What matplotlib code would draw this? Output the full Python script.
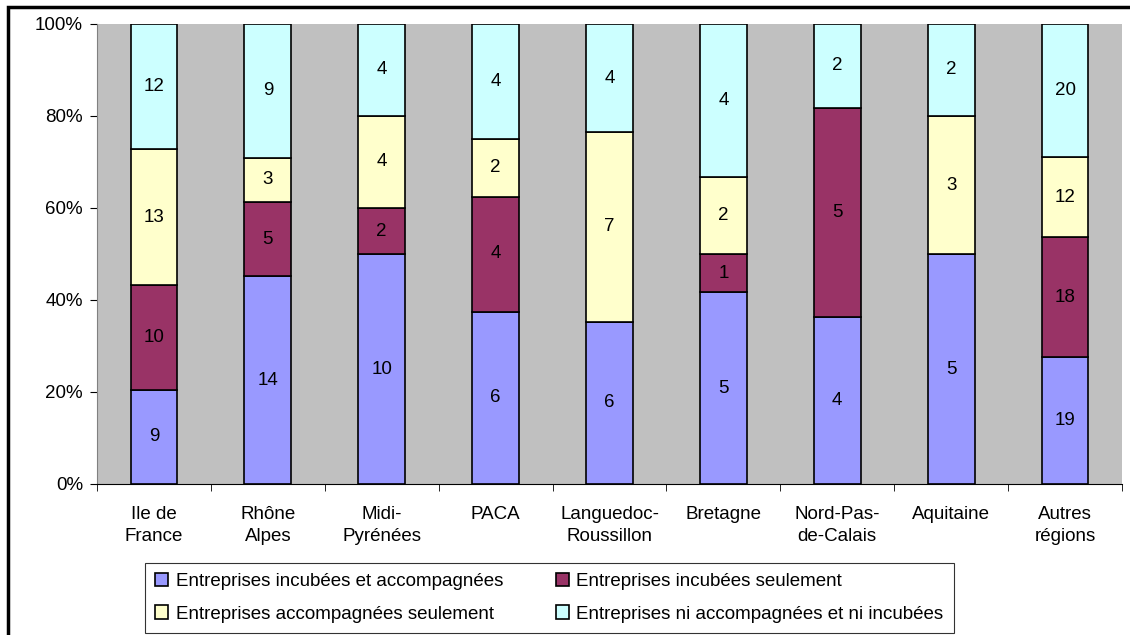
import numpy as np
import matplotlib.pyplot as plt
from matplotlib.patches import Rectangle

plt.rcParams['font.family'] = ['Liberation Sans', 'DejaVu Sans']

regions = ['Ile de\nFrance', 'Rhône\nAlpes', 'Midi-\nPyrénées', 'PACA', 'Languedoc-\nRoussillon',
           'Bretagne', 'Nord-Pas-\nde-Calais', 'Aquitaine', 'Autres\nrégions']
incub_accomp = [9, 14, 10, 6, 6, 5, 4, 5, 19]
incub_seul = [10, 5, 2, 4, 0, 1, 5, 0, 18]
accomp_seul = [13, 3, 4, 2, 7, 2, 0, 3, 12]
ni_ni = [12, 9, 4, 4, 4, 4, 2, 2, 20]

series_names = ['Entreprises incubées et accompagnées', 'Entreprises incubées seulement',
                'Entreprises accompagnées seulement', 'Entreprises ni accompagnées et ni incubées']
colors = ['#9999FF', '#993366', '#FFFFCC', '#CCFFFF']

data = np.array([incub_accomp, incub_seul, accomp_seul, ni_ni], dtype=float)
totals = data.sum(axis=0)
pct = data / totals * 100

fig = plt.figure(figsize=(11.3, 6.35), dpi=100)
ax = fig.add_axes([97/1130, 1 - 484/635, (1122-97)/1130, (484-24)/635])
ax.set_facecolor('#C0C0C0')

x = np.arange(len(regions))
bottom = np.zeros(len(regions))
handles = []
for i in range(4):
    b = ax.bar(x, pct[i], 0.41, bottom=bottom, color=colors[i], edgecolor='black', linewidth=1.2,
               label=series_names[i], zorder=3)
    handles.append(b)
    for j in range(len(regions)):
        if data[i, j] > 0:
            ax.text(x[j], bottom[j] + pct[i, j] / 2, '%d' % data[i, j], ha='center', va='center',
                    fontsize=13.5, zorder=4)
    bottom += pct[i]

ax.set_xlim(-0.5, len(regions) - 0.5)
ax.set_ylim(0, 100)
ax.set_yticks(np.arange(0, 101, 20))
ax.set_yticklabels(['%d%%' % v for v in range(0, 101, 20)], fontsize=13.5)
ax.set_xticks(x)
ax.set_xticklabels(regions, fontsize=13.5, linespacing=1.4)
ax.tick_params(axis='x', length=0, pad=16)
ax.set_xticks(np.arange(-0.5, len(regions), 1), minor=True)
ax.tick_params(axis='x', which='minor', length=5, direction='out')
ax.tick_params(axis='y', length=5, direction='out', pad=5)
for s in ['top', 'right']:
    ax.spines[s].set_visible(False)
ax.spines['left'].set_color('#808080')
ax.spines['bottom'].set_color('black')

# legend: row-wise order
order = [0, 2, 1, 3]
leg = fig.legend([handles[k] for k in order], [series_names[k] for k in order], ncol=2,
                 loc='upper left', bbox_to_anchor=(145/1130, 1 - 563/635), borderaxespad=0,
                 fontsize=13.5, frameon=True, fancybox=False, edgecolor='black', handlelength=0.7,
                 handleheight=0.7, handletextpad=0.4, columnspacing=2.8, borderpad=0.55,
                 labelspacing=0.8)
leg.get_frame().set_linewidth(0.8)

fig.patches.append(Rectangle((8/1130, -0.1), 1.2, 1 - 7/635 + 0.1, transform=fig.transFigure,
                             fill=False, edgecolor='black', linewidth=2.5))

fig.savefig('out.png', dpi=100)
